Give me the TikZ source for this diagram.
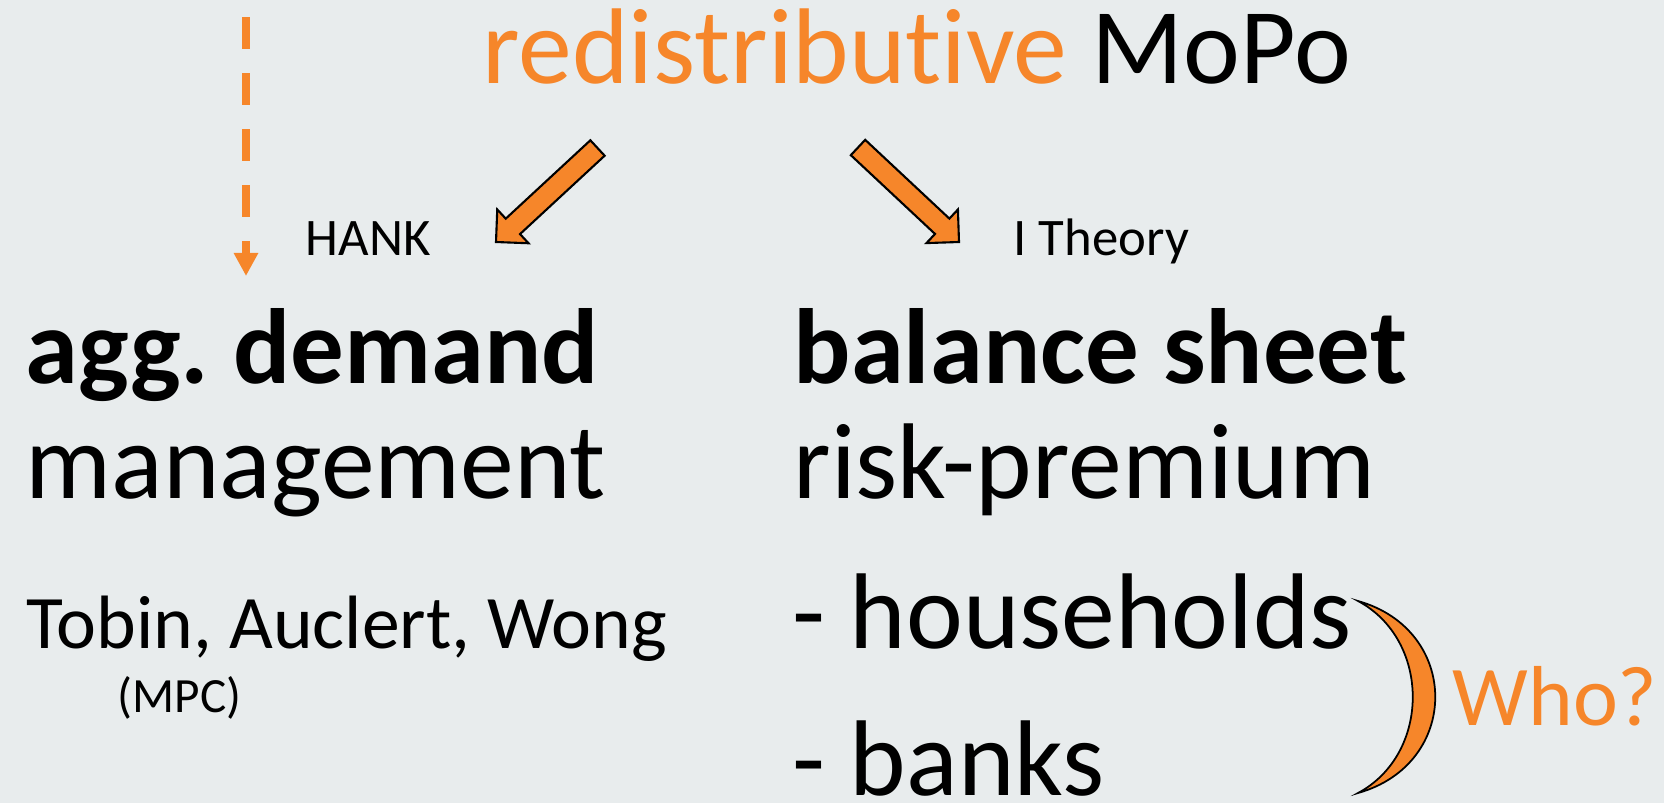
\documentclass[tikz,border=0pt]{standalone}
\usepackage{fontspec}
\setmainfont{Carlito}[Ligatures=NoCommon]
\usetikzlibrary{arrows.meta,calc}
\usepackage{xcolor}
\definecolor{slidebg}{HTML}{E8ECED}
\definecolor{mopo}{HTML}{F6862A}
\frenchspacing

% fat outlined arrow from #1 (tail) to #2 (tip)
\newcommand\blockarrow[2]{%
  \coordinate (ba) at ($(#2)!0.23cm!(#1)$);
  \filldraw[fill=mopo, draw=black, line width=0.6pt, line join=miter]
    ($(#1)!0.105cm!90:(#2)$) -- ($(ba)!0.105cm!90:(#2)$)
    -- ($(ba)!0.23cm!90:(#2)$) -- (#2) -- ($(ba)!0.23cm!-90:(#2)$)
    -- ($(ba)!0.105cm!-90:(#2)$) -- ($(#1)!0.105cm!-90:(#2)$) -- cycle;
}

\begin{document}
\begin{tikzpicture}[
    x=0.01cm, y=-0.01cm,
    txt/.style={inner sep=0pt, anchor=base west},
    big/.style={txt, font=\fontsize{30.6}{36}\selectfont},
    bigbold/.style={txt, font=\fontsize{30.4}{36}\selectfont\bfseries},
    tag/.style={txt, font=\fontsize{15}{18}\selectfont},
    dasharrow/.style={draw=mopo, line width=0.08cm,
        dash pattern=on 0.32cm off 0.24cm,
        -{Triangle[length=0.23cm, width=0.23cm]}},
]

\fill[slidebg] (0,0) rectangle (1664,803);
\useasboundingbox (0,0) rectangle (1664,803);

% title
\node[big] (title) at (482,83) {\textcolor{mopo}{redistributive} MoPo};

% the two channels
\node[tag] (hank) at (305,255) {HANK};
\node[tag] (itheory) at (1013,255) {I Theory};

% left column
\node[bigbold] (aggdemand) at (25,383) {agg. demand};
\node[big] (management) at (25,498) {management};
\node[txt, font=\fontsize{21.5}{25}\selectfont] (tobin) at (26,648) {Tobin, Auclert, Wong};
\node[txt, font=\fontsize{14}{17}\selectfont] (mpc) at (117,712) {(MPC)};

% right column
\node[bigbold] (balance) at (793,383) {balance sheet};
\node[big] (riskprem) at (793,498) {risk-premium};
\node[big] (households) at (792,648) {- households};
\node[big] (banks) at (792,795) {- banks};
\node[txt, font=\fontsize{24.2}{29}\selectfont, text=mopo] (who) at (1452,725) {Who?};

% arrows
\coordinate (dashTop) at (246,17);
\coordinate (dashTip) at (246,276);
\draw[dasharrow] (dashTop) -- (dashTip);

\coordinate (hankTail) at (597.5,148);
\coordinate (hankTip) at (496,242);
\blockarrow{hankTail}{hankTip}

\coordinate (ithTail) at (858,147.5);
\coordinate (ithTip) at (959,242);
\blockarrow{ithTail}{ithTip}

% bracket grouping households and banks
\coordinate (brTop) at (1358,601);
\coordinate (brBot) at (1358,793);
\filldraw[fill=mopo, draw=black, line width=0.5pt]
  (brTop) .. controls (1461,630) and (1461,764) .. (brBot)
  .. controls (1431,754) and (1431,640) .. (brTop) -- cycle;

\end{tikzpicture}
\end{document}
